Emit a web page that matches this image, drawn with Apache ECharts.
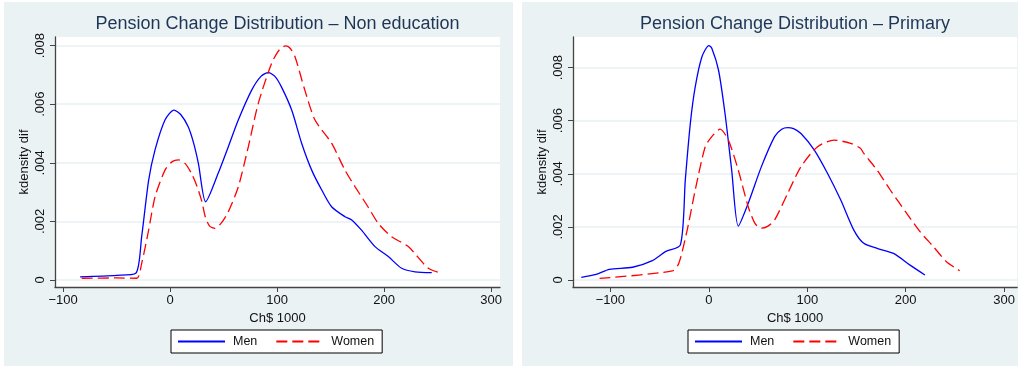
<!DOCTYPE html>
<html><head><meta charset="utf-8">
<script src="https://cdn.jsdelivr.net/npm/echarts@6/dist/echarts.min.js"></script>
<style>html,body{margin:0;padding:0;background:#fff}#c{width:1018px;height:367px}</style>
</head><body><div id="c"></div>
<script>
// ---- data (x in Ch$ 1000, y = kernel density) ----
const titles = ['Pension Change Distribution \u2013 Non education', 'Pension Change Distribution \u2013 Primary'];
const seriesNames = ['Men', 'Women'];
const xTicks = [-100, 0, 100, 200, 300];
const yTicks = [0, 0.002, 0.004, 0.006, 0.008];

const nonEduMen = [[-84,0.00011],[-50,0.00016],[-32,0.00023],[-26.5,0.00148],[-20,0.0034],[-14,0.00444],[-4.7,0.00546],[3.7,0.0058],[10,0.00565],[17,0.00523],[22,0.00468],[26.5,0.00398],[33.3,0.00267],[45,0.00364],[54.5,0.00455],[63.8,0.00546],[76.3,0.00648],[85,0.00695],[91.9,0.00708],[98,0.00695],[104,0.0066],[113.7,0.0058],[123,0.00467],[132.4,0.00375],[141.8,0.00307],[151,0.0025],[163.5,0.00216],[169.8,0.00205],[179,0.0017],[191.6,0.00114],[204,0.0008],[216.5,0.0004],[229,0.00028],[244.6,0.00025]];
const nonEduWomen = [[-82.5,0.00006],[-50,0.00007],[-31,0.00006],[-26.5,0.00057],[-20,0.0017],[-14,0.00284],[-4.7,0.00375],[2,0.00404],[7.8,0.0041],[14,0.00398],[20,0.00364],[25,0.00322],[29.6,0.0027],[33,0.00215],[37,0.00184],[42,0.00176],[48,0.00195],[54.5,0.00233],[63.8,0.00318],[73.2,0.00455],[82.5,0.00603],[95,0.0074],[102,0.00785],[108,0.00799],[112,0.00792],[116.8,0.00762],[126,0.00648],[135.5,0.00546],[151,0.00467],[163.5,0.00375],[173,0.00318],[185,0.0025],[194.7,0.00193],[207,0.00148],[222.7,0.00114],[241.4,0.0004],[254,0.00023]];
const primMen = [[-129.6,0.0001],[-114.5,0.00021],[-101,0.0004],[-77.5,0.00048],[-57.4,0.00073],[-44,0.00107],[-28.9,0.00132],[-23.9,0.00377],[-18.8,0.0059],[-13.8,0.00728],[-7,0.00841],[0,0.00883],[3,0.00873],[9.8,0.00791],[16.4,0.00628],[23.2,0.00414],[29.9,0.00203],[40,0.00289],[53.4,0.00427],[66.8,0.0054],[74,0.00568],[80.2,0.00574],[86,0.0057],[93.6,0.00552],[107,0.0049],[120.5,0.00402],[134,0.00301],[147.3,0.00188],[157.4,0.00138],[170.9,0.00119],[187.6,0.001],[204.4,0.00056],[219.5,0.00019]];
const primWomen = [[-111,0.00006],[-37,0.00034],[-30.5,0.00063],[-22,0.00188],[-13.8,0.00339],[-3.7,0.00502],[3,0.0054],[11.4,0.00568],[19.8,0.00527],[29.9,0.00414],[40,0.00276],[47,0.00212],[53.4,0.00195],[60,0.00203],[66.8,0.00226],[80.2,0.00327],[93.6,0.00427],[110.5,0.00502],[127.2,0.00527],[144,0.00515],[154,0.00496],[157.4,0.00477],[170.9,0.00414],[184.3,0.00339],[201,0.00251],[214.5,0.00182],[228,0.00126],[241.4,0.00069],[254.8,0.00035]];

// ---- layout / style ----
const FONT = '"Liberation Sans", Arial, sans-serif';
const panelBg = '#eaf2f3';
const axisCol = '#444';
const panels = [
  {grid:{left:55, top:37, width:445, height:250}, x:[-107.5,308.4], y:[-0.000239,0.008294], cx:277.5, legendLeft:171, data:[nonEduMen, nonEduWomen]},
  {grid:{left:573, top:37, width:448, height:250}, x:[-138,313.2], y:[-0.000264,0.009153], cx:795, legendLeft:688, data:[primMen, primWomen]}
];
const fmtX = v => (v < 0 ? '\u2212' + Math.abs(v) : String(v));
const fmtY = v => (Math.abs(v) < 1e-12 ? '0' : v.toFixed(3).replace(/^0/, ''));

const option = {
  animation: false,
  backgroundColor: '#fff',
  textStyle: {fontFamily: FONT},
  graphic: [
    {type:'rect', z:-100, shape:{x:4, y:2, width:509, height:364}, style:{fill:panelBg}},
    {type:'rect', z:-100, shape:{x:522, y:2, width:500, height:364}, style:{fill:panelBg}}
  ],
  title: panels.map((p, i) => ({
    text: titles[i], left: p.cx, top: 15, textAlign: 'center', padding: 0,
    textStyle: {fontFamily: FONT, fontSize: 18, fontWeight: 'normal', color: '#1e3556'}
  })),
  legend: panels.map((p, i) => ({
    data: seriesNames.map(n => n + '\u200b'.repeat(i)),
    left: p.legendLeft, top: 330, width: 212, height: 23,
    padding: [5, 8, 5, 6], itemWidth: 47, itemHeight: 12, itemGap: 18,
    itemStyle: {opacity: 0},
    backgroundColor: '#fff', borderColor: '#000', borderWidth: 1, borderRadius: 0,
    textStyle: {fontFamily: FONT, fontSize: 12.5, color: '#111', padding: [0,0,0,3]},
    formatter: n => n.replace(/\u200b/g, '')
  })),
  grid: panels.map(p => Object.assign({show:true, backgroundColor:'#fff', borderWidth:0}, p.grid)),
  xAxis: panels.map((p, i) => ({
    type: 'value', gridIndex: i, min: p.x[0], max: p.x[1],
    name: 'Ch$ 1000', nameLocation: 'middle', nameGap: 19,
    nameTextStyle: {fontFamily: FONT, fontSize: 13, color: '#111'},
    axisLine: {show: true, onZero: false, lineStyle: {color: axisCol, width: 1.3}},
    axisTick: {show: true, length: 5, customValues: xTicks, lineStyle: {color: axisCol}},
    axisLabel: {customValues: xTicks, formatter: fmtX, fontSize: 13, color: '#111', margin: 7, fontFamily: FONT},
    splitLine: {show: false}
  })),
  yAxis: panels.map((p, i) => ({
    type: 'value', gridIndex: i, min: p.y[0], max: p.y[1],
    name: 'kdensity dif', nameLocation: 'middle', nameGap: 24, nameRotate: 90,
    nameTextStyle: {fontFamily: FONT, fontSize: 13, color: '#111'},
    axisLine: {show: true, onZero: false, lineStyle: {color: axisCol, width: 1.3}},
    axisTick: {show: true, length: 5, customValues: yTicks, lineStyle: {color: axisCol}},
    axisLabel: {customValues: yTicks, formatter: fmtY, rotate: 90, fontSize: 13, color: '#111', margin: 8, fontFamily: FONT},
    splitLine: {show: true, lineStyle: {color: '#e8f0f2', width: 1.5}}
  })),
  series: []
};
panels.forEach((p, i) => {
  option.series.push({
    type: 'line', name: seriesNames[0] + '\u200b'.repeat(i), xAxisIndex: i, yAxisIndex: i,
    data: p.data[0], symbol: 'none', smooth: 0.25,
    lineStyle: {color: '#0000ff', width: 1.3}, itemStyle: {color: '#0000ff'}
  });
  option.series.push({
    type: 'line', name: seriesNames[1] + '\u200b'.repeat(i), xAxisIndex: i, yAxisIndex: i,
    data: p.data[1], symbol: 'none', smooth: 0.25,
    lineStyle: {color: '#ff0000', width: 1.3, type: [11, 5]}, itemStyle: {color: '#ff0000'}
  });
});
const chart = echarts.init(document.getElementById('c'), null, {renderer: 'canvas'});
chart.setOption(option);
</script></body></html>
